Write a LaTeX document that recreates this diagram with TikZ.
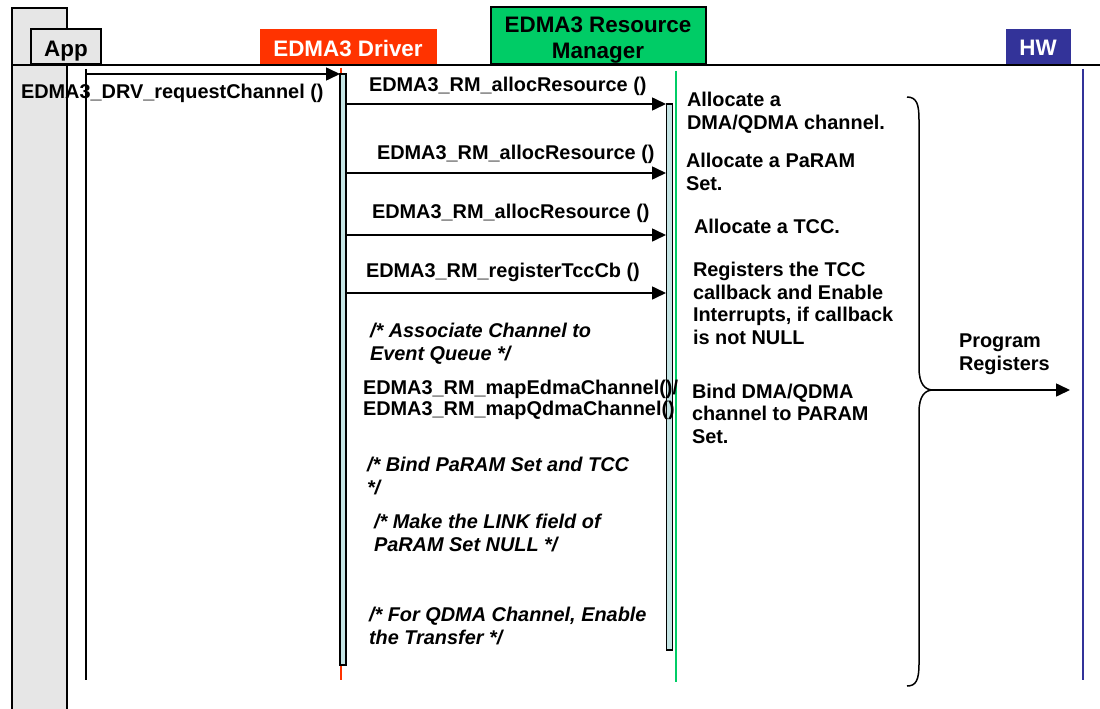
\documentclass[tikz,border=0pt]{standalone}
\usepackage{fontspec}
\setmainfont{Liberation Sans}
\usetikzlibrary{arrows.meta}
\definecolor{drvred}{HTML}{FF3300}
\definecolor{rmgreen}{HTML}{00CC66}
\definecolor{hwblue}{HTML}{333399}
\definecolor{appgray}{HTML}{E6E6E6}
\definecolor{barfill}{HTML}{C4E4E4}
\begin{document}
\begin{tikzpicture}[x=1pt,y=-1pt,
  every node/.style={inner sep=0pt, outer sep=0pt},
  body/.style={font=\bfseries\fontsize{19.9}{22.5}\selectfont},
  cmt/.style={font=\bfseries\itshape\fontsize{19.9}{22.5}\selectfont},
  head/.style={font=\bfseries\fontsize{22.4}{26}\selectfont},
  lbl/.style={anchor=base west, align=left},
  hbox/.style={rectangle, anchor=north west},
  msg/.style={line width=1.6pt, -{Triangle[length=14pt,width=13pt]}},
  actbar/.style={draw=black, fill=barfill, line width=1.2pt}]
\useasboundingbox (0,0) rectangle (1100,709);
\fill[white] (0,0) rectangle (1100,709);
% App column
\draw[fill=appgray, line width=1.5pt] (12,8) rectangle (67,715);
\node[hbox, draw=black, fill=appgray, line width=1.5pt, minimum width=70pt, minimum height=35pt] (appbox) at (31,29) {};
\node[head, anchor=base] (applbl) at (66,57) {App};
% Driver header
\node[hbox, fill=drvred, minimum width=177pt, minimum height=36pt] (drvbox) at (260,29) {};
\node[head, anchor=base, text=white] (drvlbl) at (348,57) {EDMA3 Driver};
% RM header
\node[hbox, draw=black, fill=rmgreen, line width=1.5pt, minimum width=215pt, minimum height=57pt] (rmbox) at (491,7) {};
\node[head, anchor=base, align=center] (rmlbl) at (598,59) {EDMA3 Resource\\Manager};
% HW header
\node[hbox, fill=hwblue, minimum width=65pt, minimum height=36pt] (hwbox) at (1006,29) {};
\node[head, anchor=base, text=white] (hwlbl) at (1038,56) {HW};
% header rule
\coordinate (ruleL) at (12,65);
\coordinate (ruleR) at (1100,65);
\draw[line width=1.6pt] (ruleL) -- (ruleR);
% lifelines
\coordinate (appT) at (86,69); \coordinate (appB) at (86,680);
\coordinate (drvT) at (341,68); \coordinate (drvB) at (341,680);
\coordinate (rmT) at (676,71); \coordinate (rmB) at (676,682);
\coordinate (hwT) at (1083,69); \coordinate (hwB) at (1083,680);
\draw[line width=1.5pt] (appT) -- (appB);
\draw[drvred, line width=1.3pt] (drvT) -- (drvB);
\draw[rmgreen, line width=1.5pt] (rmT) -- (rmB);
\draw[hwblue, line width=1.5pt] (hwT) -- (hwB);
% activation bars
\draw[actbar] (340,74) rectangle (346,665);
\draw[actbar] (666.5,104) rectangle (672.5,650);
% messages
\coordinate (m0a) at (86,74);   \coordinate (m0b) at (340,74);
\coordinate (m1a) at (346,104); \coordinate (m1b) at (666,104);
\coordinate (m2a) at (346,173); \coordinate (m2b) at (666,173);
\coordinate (m3a) at (346,235); \coordinate (m3b) at (666,235);
\coordinate (m4a) at (346,293); \coordinate (m4b) at (666,293);
\draw[msg] (m0a) -- (m0b);
\draw[msg] (m1a) -- (m1b);
\draw[msg] (m2a) -- (m2b);
\draw[msg] (m3a) -- (m3b);
\draw[msg] (m4a) -- (m4b);
% message labels
\node[body, lbl] (l0) at (21,98) {EDMA3\_DRV\_requestChannel ()};
\node[body, lbl] (l1) at (369,92) {EDMA3\_RM\_allocResource ()};
\node[body, lbl] (l2) at (377,159) {EDMA3\_RM\_allocResource ()};
\node[body, lbl] (l3) at (372,218) {EDMA3\_RM\_allocResource ()};
\node[body, lbl] (l4) at (366,277) {EDMA3\_RM\_registerTccCb ()};
% driver comments (base = last line baseline)
\node[cmt, lbl] (c1) at (370,360) {/* Associate Channel to\\Event Queue */};
\node[body, lbl, font=\bfseries\fontsize{19.9}{21}\selectfont] (c2) at (363,415) {EDMA3\_RM\_mapEdmaChannel()/\\EDMA3\_RM\_mapQdmaChannel()};
\node[cmt, lbl] (c3) at (367,494) {/* Bind PaRAM Set and TCC\\*/};
\node[cmt, lbl] (c4) at (374,551) {/* Make the LINK field of\\PaRAM Set NULL */};
\node[cmt, lbl] (c5) at (369,644) {/* For QDMA Channel, Enable\\the Transfer */};
% RM notes
\node[body, lbl] (n1) at (687,129) {Allocate a\\DMA/QDMA channel.};
\node[body, lbl] (n2) at (686,190) {Allocate a PaRAM\\Set.};
\node[body, lbl] (n3) at (694,233) {Allocate a TCC.};
\node[body, lbl] (n4) at (693,344) {Registers the TCC\\callback and Enable\\Interrupts, if callback\\is not NULL};
\node[body, lbl] (n5) at (692,443) {Bind DMA/QDMA\\channel to PARAM\\Set.};
% brace
\coordinate (brT) at (907,97);
\coordinate (brM) at (933,390);
\coordinate (brB) at (907,686);
\draw[line width=1.5pt] (brT) .. controls (917,97) and (919,105) .. (919,120)
  -- (919,368) .. controls (919,384) and (925,390) .. (brM)
  .. controls (925,390) and (919,396) .. (919,412)
  -- (919,664) .. controls (919,680) and (916,686) .. (brB);
\coordinate (pr) at (1070,390);
\draw[msg] (brM) -- (pr);
\node[body, lbl] (pl) at (959,370) {Program\\Registers};
\end{tikzpicture}
\end{document}
